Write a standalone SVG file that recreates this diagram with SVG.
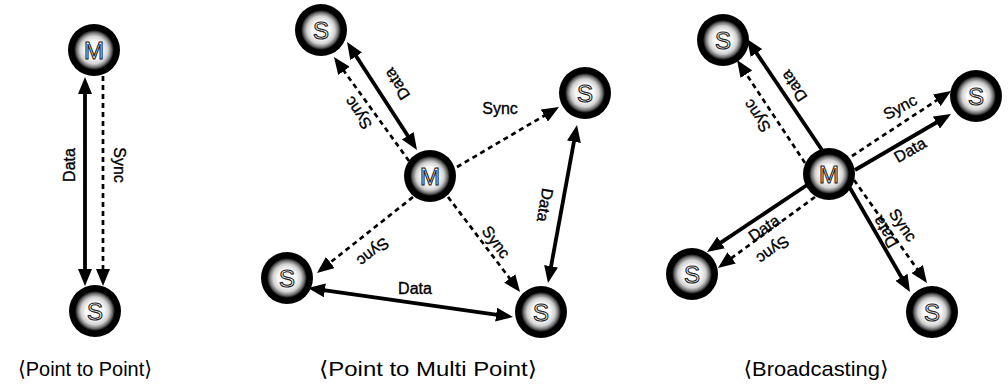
<svg xmlns="http://www.w3.org/2000/svg" width="1008" height="385" viewBox="0 0 1008 385">
  <defs>
    <radialGradient id="glow" cx="0.5" cy="0.5" r="0.5">
      <stop offset="0" stop-color="#ffffff"/>
      <stop offset="0.45" stop-color="#fbfbfb"/>
      <stop offset="0.7" stop-color="#d0d0d0"/>
      <stop offset="0.87" stop-color="#6e6e6e"/>
      <stop offset="1" stop-color="#000000"/>
    </radialGradient>
    <marker id="head" viewBox="0 0 17 14" refX="12" refY="7" markerWidth="17" markerHeight="14" markerUnits="userSpaceOnUse" orient="auto-start-reverse">
      <path d="M0,0 L17,7 L0,14 Z" fill="#000"/>
    </marker>
    <g id="disc">
      <circle r="26" fill="#000"/>
      <circle r="20" fill="url(#glow)"/>
    </g>
  </defs>
  <style>
    .data{stroke:#000;stroke-width:3.8;fill:none}
    .sync{stroke:#000;stroke-width:2.7;stroke-dasharray:5 4;fill:none}
    .both{marker-start:url(#head);marker-end:url(#head)}
    .one{marker-end:url(#head)}
    .lbl{font-family:"Liberation Sans",Arial,sans-serif;font-size:16px;fill:#000;stroke:#000;stroke-width:0.35;text-anchor:middle;dominant-baseline:central}
    .glyph{font-family:"Liberation Sans",Arial,sans-serif;font-size:24px;fill:#fff;stroke:#222;stroke-width:1.1;text-anchor:middle;dominant-baseline:central}
    .cap{font-family:"Liberation Sans Narrow","Liberation Sans",Arial,"DejaVu Sans",sans-serif;font-size:21px;fill:#000;text-anchor:middle}
  </style>

  <rect width="1008" height="385" fill="#fff"/>

  <!-- connectors -->
  <g id="connectors">
    <!-- point to point -->
    <path class="data both" d="M85,82 L85,281"/>
    <path class="sync one" d="M103,76 L103,281"/>
    <!-- point to multi point -->
    <path class="data both" d="M349.7,46.2 L414.3,145.8"/>
    <path class="sync one" d="M409,161 L336.9,61.1"/>
    <path class="sync one" d="M457,167 L554.7,109.5"/>
    <path class="data both" d="M576.1,129.9 L548.9,278.1"/>
    <path class="sync one" d="M413,197 L320.9,269.9"/>
    <path class="data both" d="M313,288.7 L508,316.3"/>
    <path class="sync one" d="M448,197 L517,288"/>
    <!-- broadcasting -->
    <path class="data one" d="M822,150 L749.8,43.1"/>
    <path class="sync one" d="M805,163 L739.8,64.2"/>
    <path class="sync one" d="M852,156 L946.8,93.7"/>
    <path class="data one" d="M855,170 L946.7,116.5"/>
    <path class="data one" d="M807,185 L711.1,249.2"/>
    <path class="sync one" d="M815,197 L722,265"/>
    <path class="data one" d="M850,188 L907.5,287.7"/>
    <path class="sync one" d="M854,180 L924.1,278.9"/>
  </g>

  <!-- connector labels -->
  <g id="labels">
    <text class="lbl" transform="translate(69,165) rotate(-90)">Data</text>
    <text class="lbl" transform="translate(119,165) rotate(90)">Sync</text>

    <text class="lbl" transform="translate(397,84) rotate(-123)">Data</text>
    <text class="lbl" transform="translate(358,113) rotate(-125)">Sync</text>
    <text class="lbl" transform="translate(500,108)">Sync</text>
    <text class="lbl" transform="translate(545,205) rotate(100)">Data</text>
    <text class="lbl" transform="translate(373,252) rotate(142)">Sync</text>
    <text class="lbl" transform="translate(415,288)">Data</text>
    <text class="lbl" transform="translate(496,242) rotate(53)">Sync</text>

    <text class="lbl" transform="translate(794,86) rotate(-124)">Data</text>
    <text class="lbl" transform="translate(757,116) rotate(-124)">Sync</text>
    <text class="lbl" transform="translate(900,107) rotate(-28)">Sync</text>
    <text class="lbl" transform="translate(910,150) rotate(-30)">Data</text>
    <text class="lbl" transform="translate(764,228) rotate(-35)">Data</text>
    <text class="lbl" transform="translate(773,250) rotate(144)">Sync</text>
    <text class="lbl" transform="translate(885,232) rotate(-120)">Data</text>
    <text class="lbl" transform="translate(903,225) rotate(55)">Sync</text>
  </g>

  <!-- point to point nodes -->
  <g id="p2p-master" transform="translate(94,50)"><use href="#disc"/><text class="glyph">M</text></g>
  <g id="p2p-slave" transform="translate(95,311)"><use href="#disc"/><text class="glyph">S</text></g>

  <!-- point to multi point nodes -->
  <g id="p2mp-master" transform="translate(430,176)"><use href="#disc"/><text class="glyph">M</text></g>
  <g id="p2mp-slave-nw" transform="translate(321,30)"><use href="#disc"/><text class="glyph">S</text></g>
  <g id="p2mp-slave-ne" transform="translate(585,93)"><use href="#disc"/><text class="glyph">S</text></g>
  <g id="p2mp-slave-sw" transform="translate(287,278)"><use href="#disc"/><text class="glyph">S</text></g>
  <g id="p2mp-slave-se" transform="translate(541,312)"><use href="#disc"/><text class="glyph">S</text></g>

  <!-- broadcasting nodes -->
  <g id="bc-master" transform="translate(829,174)"><use href="#disc"/><text class="glyph">M</text></g>
  <g id="bc-slave-nw" transform="translate(723,40)"><use href="#disc"/><text class="glyph">S</text></g>
  <g id="bc-slave-ne" transform="translate(976,96)"><use href="#disc"/><text class="glyph">S</text></g>
  <g id="bc-slave-sw" transform="translate(692,274)"><use href="#disc"/><text class="glyph">S</text></g>
  <g id="bc-slave-se" transform="translate(932,312)"><use href="#disc"/><text class="glyph">S</text></g>

  <!-- captions -->
  <g id="captions">
    <text class="cap" x="85" y="376" textLength="134" lengthAdjust="spacingAndGlyphs">⟨Point to Point⟩</text>
    <text class="cap" x="428" y="376" textLength="218" lengthAdjust="spacingAndGlyphs">⟨Point to Multi Point⟩</text>
    <text class="cap" x="816" y="376" textLength="145" lengthAdjust="spacingAndGlyphs">⟨Broadcasting⟩</text>
  </g>
</svg>
